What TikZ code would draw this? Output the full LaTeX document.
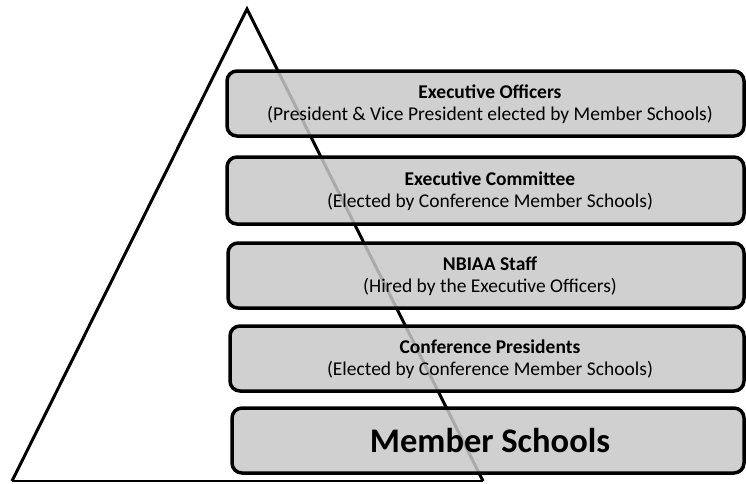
\documentclass[tikz,border=0pt]{standalone}
\usepackage{fontspec}
\setmainfont{Carlito}
\begin{document}
\begin{tikzpicture}[x=1pt,y=-1pt,
  tier/.style={draw=black, line width=3.5pt, rounded corners=10pt, fill={rgb,255:red,200;green,200;blue,200}, fill opacity=0.85, text opacity=1},
  tiertext/.style={align=center, font=\fontsize{19.5}{22}\selectfont, text=black}]
\useasboundingbox (0,0) rectangle (746,483);
% pyramid
\coordinate (apex) at (247,9);
\coordinate (bl) at (12,481);
\coordinate (br) at (483,481);
\draw[line width=3pt, line join=miter] (bl) -- (apex) -- (br);
\draw[line width=2.5pt] (bl) -- (br);
% tiers
\draw[tier] (227,71) rectangle (744,136);
\draw[tier] (227,157) rectangle (744,224);
\draw[tier] (228,243) rectangle (744,308);
\draw[tier] (230,326) rectangle (744,391);
\draw[tier] (232,408) rectangle (744,473);
\node[tiertext] (t1) at (490,104) {\textbf{Executive Officers}\\(President \& Vice President elected by Member Schools)};
\node[tiertext] (t2) at (490,191) {\textbf{Executive Committee}\\(Elected by Conference Member Schools)};
\node[tiertext] (t3) at (490,276) {\textbf{NBIAA Staff}\\(Hired by the Executive Officers)};
\node[tiertext] (t4) at (490,359) {\textbf{Conference Presidents}\\(Elected by Conference Member Schools)};
\node[font=\fontsize{34.5}{40}\selectfont\bfseries] (t5) at (490,440.5) {Member Schools};
\end{tikzpicture}
\end{document}
